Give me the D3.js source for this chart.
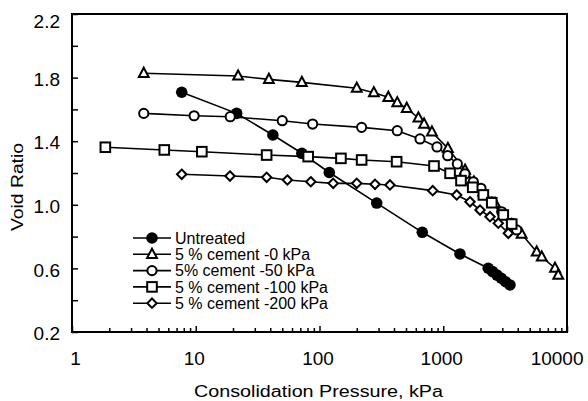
<!DOCTYPE html>
<html lang="en">
  <head>
    <meta charset="UTF-8" />
    <title>Void Ratio vs Consolidation Pressure</title>
    <script src="https://d3js.org/d3.v7.min.js"></script>
    <style>
      body {
        margin: 0;
        background: #fff;
      }
      svg {
        display: block;
        font-family: "Liberation Sans", Arial, sans-serif;
      }
    </style>
  </head>
  <body>
    <svg id="chart" width="588" height="401"></svg>
    <script>
      const seriesNames = [
        "Untreated",
        "5 % cement -0 kPa",
        "5% cement -50 kPa",
        "5 % cement -100 kPa",
        "5 % cement -200 kPa",
      ];

      // consolidation pressure (kPa) and void ratio
      const untreatedP = [7.7, 21.4, 42, 72, 120, 290, 677, 1365, 2310, 2505, 2720, 2945, 3190, 3460];
      const untreatedE = [1.708, 1.575, 1.439, 1.324, 1.203, 1.011, 0.827, 0.691, 0.601, 0.58, 0.558, 0.538, 0.516, 0.496];

      const cement0P = [3.8, 22, 39, 72, 200, 275, 360, 425, 507, 630, 700, 810, 1090, 1500, 1770, 2100, 2620, 3060, 3570, 4300, 5690, 6250, 8000, 8500];
      const cement0E = [1.827, 1.81, 1.789, 1.77, 1.733, 1.705, 1.676, 1.642, 1.607, 1.546, 1.508, 1.458, 1.355, 1.218, 1.143, 1.081, 1.009, 0.936, 0.873, 0.816, 0.703, 0.672, 0.601, 0.558];

      const cement50P = [3.8, 9.7, 19, 50, 88, 219, 425, 649, 890, 1086, 1300, 1500, 1750, 2018, 2465, 2967, 3574, 3923];
      const cement50E = [1.575, 1.56, 1.554, 1.529, 1.508, 1.487, 1.466, 1.414, 1.364, 1.309, 1.257, 1.194, 1.145, 1.104, 1.019, 0.956, 0.884, 0.842];

      const cement100P = [1.86, 5.57, 11.2, 37.4, 81, 149, 219, 420, 842, 1135, 1391, 1730, 2109, 2465, 3057, 3574];
      const cement100E = [1.362, 1.345, 1.334, 1.313, 1.303, 1.292, 1.282, 1.271, 1.244, 1.198, 1.152, 1.11, 1.062, 1.013, 0.936, 0.879];

      const cement200P = [7.7, 18.9, 37.4, 55, 85, 129, 200, 281, 371, 822, 1284, 1645, 1982, 2387, 2786, 3356];
      const cement200E = [1.192, 1.181, 1.173, 1.156, 1.145, 1.135, 1.135, 1.129, 1.125, 1.089, 1.062, 1.019, 0.967, 0.925, 0.884, 0.821];

      const xTickLabels = [1, 10, 100, 1000, 10000];
      const yTickLabels = [0.2, 0.6, 1.0, 1.4, 1.8, 2.2];
      const xTitle = "Consolidation Pressure, kPa";
      const yTitle = "Void Ratio";

      const seriesP = [untreatedP, cement0P, cement50P, cement100P, cement200P];
      const seriesE = [untreatedE, cement0E, cement50E, cement100E, cement200E];
      const markers = ["dot", "triangle", "circle", "square", "diamond"];

      const svg = d3.select("#chart");
      const plot = { left: 72, right: 567, top: 14, bottom: 332 };

      const x = d3.scaleLog().domain([1, 10000]).range([plot.left, plot.right]);
      const y = d3.scaleLinear().domain([0.2, 2.2]).range([plot.bottom, plot.top]);

      // minor ticks 2..9 in each decade, y ticks every 0.2
      const xMinor = [];
      xTickLabels.slice(0, -1).forEach((d) => {
        for (let k = 2; k <= 9; k++) xMinor.push(d * k);
      });
      const yAll = d3.range(0, 11).map((i) => +(0.2 + i * 0.2).toFixed(1));

      svg
        .append("g")
        .attr("transform", `translate(0,${plot.bottom})`)
        .call(d3.axisBottom(x).tickValues(xMinor).tickSize(-4).tickFormat(""))
        .call((g) => g.select(".domain").remove())
        .selectAll("line")
        .attr("stroke-width", 1.5);

      const xAxis = svg
        .append("g")
        .attr("transform", `translate(0,${plot.bottom})`)
        .call(
          d3
            .axisBottom(x)
            .tickValues(xTickLabels)
            .tickSize(-6)
            .tickPadding(20)
            .tickFormat(d3.format("d"))
        );
      xAxis.select(".domain").remove();
      xAxis.selectAll("line").attr("stroke-width", 1.5);
      xAxis
        .selectAll("text")
        .attr("font-size", 19)
        .attr("fill", "#000")
        .attr("font-family", "Liberation Sans, Arial, sans-serif")
        .attr("text-anchor", (d) => (d === 10000 ? "end" : "middle"))
        .attr("x", (d) => (d === 10000 ? 16 : d === 1 ? 3 : -2));

      const yAxis = svg
        .append("g")
        .attr("transform", `translate(${plot.left},0)`)
        .call(
          d3
            .axisLeft(y)
            .tickValues(yAll)
            .tickSize(-6)
            .tickPadding(12)
            .tickFormat((d) => (yTickLabels.includes(d) ? d3.format(".1f")(d) : ""))
        );
      yAxis.select(".domain").remove();
      yAxis.selectAll("line").attr("stroke-width", 1.5);
      yAxis
        .selectAll("text")
        .attr("font-size", 19)
        .attr("fill", "#000")
        .attr("font-family", "Liberation Sans, Arial, sans-serif")
        .attr("dy", (d) => (d === 2.2 ? "0.7em" : "0.4em"));

      // frame
      svg
        .append("rect")
        .attr("x", plot.left)
        .attr("y", plot.top)
        .attr("width", plot.right - plot.left)
        .attr("height", plot.bottom - plot.top)
        .attr("fill", "none")
        .attr("stroke", "#000")
        .attr("stroke-width", 2);

      function drawMarker(g, type, cx, cy) {
        if (type === "dot") {
          g.append("circle").attr("cx", cx).attr("cy", cy).attr("r", 5.8).attr("fill", "#000");
        } else if (type === "circle") {
          g.append("circle")
            .attr("cx", cx)
            .attr("cy", cy)
            .attr("r", 4.6)
            .attr("fill", "#fff")
            .attr("stroke", "#000")
            .attr("stroke-width", 2);
        } else if (type === "square") {
          g.append("rect")
            .attr("x", cx - 4.8)
            .attr("y", cy - 4.8)
            .attr("width", 9.6)
            .attr("height", 9.6)
            .attr("fill", "#fff")
            .attr("stroke", "#000")
            .attr("stroke-width", 2);
        } else if (type === "triangle") {
          g.append("path")
            .attr("d", `M${cx},${cy - 5.6}L${cx + 4.9},${cy + 3.6}L${cx - 4.9},${cy + 3.6}Z`)
            .attr("fill", "#fff")
            .attr("stroke", "#000")
            .attr("stroke-width", 2);
        } else if (type === "diamond") {
          g.append("path")
            .attr("d", `M${cx},${cy - 4.7}L${cx + 4.7},${cy}L${cx},${cy + 4.7}L${cx - 4.7},${cy}Z`)
            .attr("fill", "#fff")
            .attr("stroke", "#000")
            .attr("stroke-width", 2);
        }
      }

      const line = d3
        .line()
        .x((d) => x(d[0]))
        .y((d) => y(d[1]));

      seriesNames.forEach((name, i) => {
        const pts = seriesP[i].map((p, j) => [p, seriesE[i][j]]);
        const g = svg.append("g");
        g.append("path")
          .datum(pts)
          .attr("d", line)
          .attr("fill", "none")
          .attr("stroke", "#000")
          .attr("stroke-width", 1.6);
        pts.forEach((d) => drawMarker(g, markers[i], x(d[0]), y(d[1])));
      });

      // legend
      const legend = svg.append("g");
      seriesNames.forEach((name, i) => {
        const ly = 238 + i * 16.3;
        const g = legend.append("g");
        g.append("line")
          .attr("x1", 133)
          .attr("x2", 171)
          .attr("y1", ly)
          .attr("y2", ly)
          .attr("stroke", "#000")
          .attr("stroke-width", 1.6);
        drawMarker(g, markers[i], 152, ly);
        g.append("text")
          .attr("x", 175)
          .attr("y", ly + 5.6)
          .attr("font-size", 16)
          .text(name);
      });

      // axis titles
      svg
        .append("text")
        .attr("x", 318.5)
        .attr("y", 396.5)
        .attr("text-anchor", "middle")
        .attr("font-size", 16)
        .attr("textLength", 249)
        .attr("lengthAdjust", "spacingAndGlyphs")
        .text(xTitle);

      svg
        .append("text")
        .attr("transform", "translate(23,187) rotate(-90)")
        .attr("text-anchor", "middle")
        .attr("font-size", 16)
        .attr("textLength", 88)
        .attr("lengthAdjust", "spacingAndGlyphs")
        .text(yTitle);
    </script>
  </body>
</html>
